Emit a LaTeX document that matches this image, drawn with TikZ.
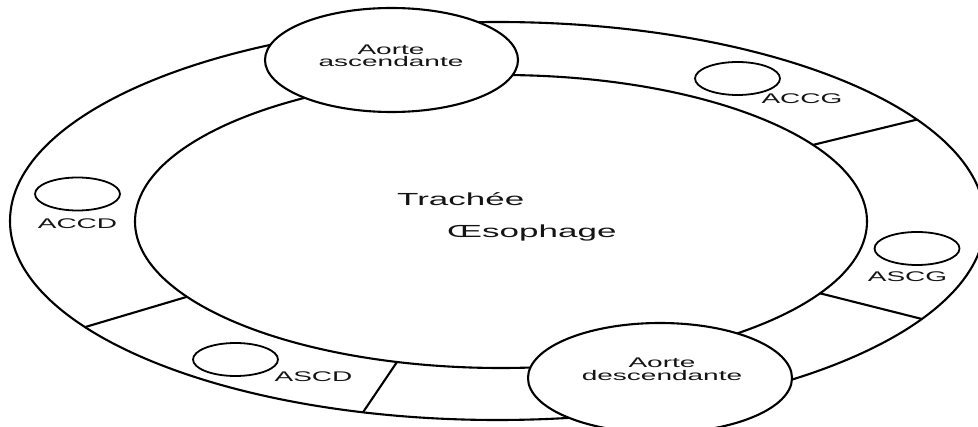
\documentclass[tikz,border=0pt]{standalone}
\usepackage{graphicx}
\usepackage{fontspec}
\setmainfont{Liberation Sans}
\usetikzlibrary{shapes.geometric}
\newcommand{\StretchX}[1]{\scalebox{2.0}[1]{#1}}
\begin{document}
\begin{tikzpicture}[x=1pt,y=-1pt,
  ringline/.style={draw=black, line width=2.1pt},
  ringshape/.style={ellipse, ringline, inner sep=0pt, outer sep=0pt},
  bigvessel/.style={ellipse, draw=black, line width=2.1pt, fill=white, inner sep=0pt, outer sep=0pt},
  smallvessel/.style={ellipse, draw=black, line width=1.8pt, inner sep=0pt, outer sep=0pt, minimum width=85pt, minimum height=33pt},
  lab/.style={font=\fontsize{14}{12.5}\selectfont, text=black!92, anchor=base, inner sep=0pt},
  biglab/.style={font=\fontsize{14}{12.5}\selectfont, text=black!92, align=center, inner sep=0pt},
  midlab/.style={font=\fontsize{17.5}{20}\selectfont, text=black!92, anchor=base west, inner sep=0pt}]
\useasboundingbox[fill=white] (0,0) rectangle (978,427);
% ring
\node[ringshape, minimum width=975pt, minimum height=398pt] (outer) at (497.5,221) {};
\node[ringshape, minimum width=732pt, minimum height=293pt] (inner) at (501,221.5) {};
% dividers
\coordinate (d1i) at (813,144.9); \coordinate (d1o) at (917,119.6);
\coordinate (d2i) at (820,293.3); \coordinate (d2o) at (922,319);
\coordinate (d3i) at (187,296.8); \coordinate (d3o) at (85,327.1);
\coordinate (d4i) at (397,362);   \coordinate (d4o) at (363,412.3);
\draw[ringline] (d1i) -- (d1o);
\draw[ringline] (d2i) -- (d2o);
\draw[ringline] (d3i) -- (d3o);
\draw[ringline] (d4i) -- (d4o);
% aortas
\node[bigvessel, minimum width=253pt, minimum height=104pt] (aasc) at (391.5,60) {};
\node[biglab] (laasc) at (391,56) {\StretchX{Aorte}\\\StretchX{ascendante}};
\node[bigvessel, minimum width=264pt, minimum height=110pt] (adesc) at (660,378) {};
\node[biglab] (ladesc) at (662,369.5) {\StretchX{Aorte}\\\StretchX{descendante}};
% small vessels
\node[smallvessel] (accg) at (737.5,78.5) {};
\node[lab] (laccg) at (802,104) {\StretchX{ACCG}};
\node[smallvessel] (accd) at (77.5,194) {};
\node[lab] (laccd) at (77.5,229) {\StretchX{ACCD}};
\node[smallvessel] (ascg) at (917,248.5) {};
\node[lab] (lascg) at (907.5,281.7) {\StretchX{ASCG}};
\node[smallvessel] (ascd) at (235.5,359.5) {};
\node[lab] (lascd) at (313.5,381.7) {\StretchX{ASCD}};
% centre
\node[midlab] (trachee) at (397,206) {\StretchX{Trachée}};
\node[midlab] (oeso) at (447,238) {\StretchX{Œsophage}};
\end{tikzpicture}
\end{document}
